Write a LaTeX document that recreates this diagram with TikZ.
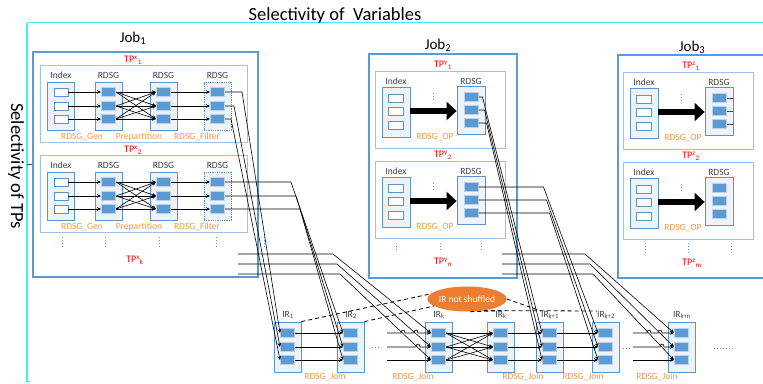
\documentclass[tikz,border=0pt]{standalone}
\usepackage{fontspec}
\setmainfont{Carlito}
\usetikzlibrary{arrows.meta,shapes.geometric,calc}

\definecolor{jobblue}{HTML}{5B9BD5}
\definecolor{tpblue}{HTML}{9DC3E6}
\definecolor{colblue}{HTML}{5F93CC}
\definecolor{colfill}{HTML}{EEF3FA}
\definecolor{cellblue}{HTML}{5B9BD5}
\definecolor{celledge}{HTML}{BDD3EC}
\definecolor{oplabel}{HTML}{F79646}
\definecolor{tpred}{HTML}{FF0000}
\definecolor{axiscyan}{HTML}{3FF2F2}
\definecolor{shuffle}{HTML}{ED7D31}
\definecolor{irgrey}{HTML}{404040}

\tikzset{
  jobbox/.style={draw=jobblue, line width=2pt},
  tpbox/.style={draw=tpblue, line width=1pt},
  colbox/.style={draw=colblue, fill=colfill, line width=0.8pt, inner sep=0pt},
  idxcell/.style={draw=colblue, fill=white, line width=0.7pt, minimum width=14pt, minimum height=8pt, inner sep=0pt},
  rdcell/.style={fill=cellblue, draw=celledge, line width=1pt, minimum width=14pt, minimum height=9pt, inner sep=0pt},
  hdr/.style={font=\fontsize{9.5}{10}\selectfont, text=irgrey, inner sep=0pt},
  oplbl/.style={font=\fontsize{9.5}{10}\selectfont, text=oplabel, inner sep=0pt},
  tplbl/.style={font=\fontsize{10}{11}\selectfont, text=tpred, inner sep=0pt},
  irlbl/.style={font=\fontsize{9.5}{10}\selectfont, text=irgrey, inner sep=0pt},
  joblbl/.style={font=\fontsize{15}{16}\selectfont, inner sep=0pt},
  axistitle/.style={font=\fontsize{18.5}{20}\selectfont, inner sep=0pt},
  axisline/.style={draw=axiscyan, line width=1.5pt},
  wirearrow/.style={-{Stealth[length=4pt,width=3.5pt]}, line width=0.6pt},
  stub/.style={draw=black!70, line width=0.6pt},
  fatarrow/.style={line width=6pt, -{Triangle[length=10pt,width=18pt]}},
  vdots/.style={draw=jobblue, dotted, line width=1pt},
  dashline/.style={dash pattern=on 4pt off 3pt, line width=0.8pt},
}

\newcommand\tpname[2]{TP\textsuperscript{#1}\textsubscript{#2}}
% small bump where a horizontal wire jumps over a crossing one
\newcommand\hop[2]{-- (#1-2,#2) .. controls (#1-2,#2-4) and (#1+2,#2-4) .. (#1+2,#2)}

% one triple-pattern block of the first job: #1 prefix, #2 top edge, #3 subscript
\newcommand\xtp[3]{%
  \draw[tpbox] (40,#2) rectangle (247,#2+77);
  \node[tplbl] (#1-tp) at (133,#2-5) {\tpname{x}{#3}};
  \node[colbox, minimum width=27pt, minimum height=48pt] (#1-col1) at (61,#2+41) {};
  \node[colbox, minimum width=27pt, minimum height=48pt] (#1-col2) at (108.5,#2+41) {};
  \node[colbox, minimum width=27pt, minimum height=48pt] (#1-col3) at (163.5,#2+41) {};
  \node[colbox, densely dotted, minimum width=27pt, minimum height=48pt] (#1-col4) at (217.5,#2+41) {};
  \node[hdr] (#1-h1) at (61,#2+10) {Index};
  \node[hdr] (#1-h2) at (108.5,#2+10) {RDSG};
  \node[hdr] (#1-h3) at (163.5,#2+10) {RDSG};
  \node[hdr] (#1-h4) at (217.5,#2+10) {RDSG};
  \foreach \r/\dy in {1/27,2/41,3/54}{
    \node[idxcell] (#1-1-\r) at (61,#2+\dy) {};
    \node[rdcell] (#1-2-\r) at (108.5,#2+\dy) {};
    \node[rdcell] (#1-3-\r) at (163.5,#2+\dy) {};
    \node[rdcell] (#1-4-\r) at (217.5,#2+\dy) {};
  }
  \foreach \r in {1,2,3}{
    \draw[wirearrow] (#1-1-\r.east) -- (#1-2-\r.west);
    \draw[wirearrow] (#1-3-\r.east) -- (#1-4-\r.west);
    \foreach \s in {1,2,3} \draw[wirearrow] (#1-2-\r.east) -- (#1-3-\s.west);
  }
  \node[oplbl] (#1-gen) at (82,#2+72) {RDSG\_Gen};
  \node[oplbl] (#1-pre) at (139,#2+72) {Prepartition};
  \node[oplbl] (#1-fil) at (197,#2+72) {RDSG\_Filter};
}

% one triple-pattern block of the later jobs: #1 prefix, #2 left, #3 top, #4 letter, #5 subscript
\newcommand\ytp[5]{%
  \draw[tpbox] (#2,#3) rectangle (#2+130,#3+77);
  \node[tplbl] (#1-tp) at (#2+68,#3-6) {\tpname{#4}{#5}};
  \node[hdr] (#1-ih) at (#2+21,#3+10) {Index};
  \node[hdr] (#1-rh) at (#2+96,#3+10) {RDSG};
  \node[colbox, minimum width=28pt, minimum height=50pt] (#1-ib) at (#2+21,#3+41) {};
  \node[colbox, minimum width=28pt, minimum height=48pt] (#1-rb) at (#2+96,#3+39) {};
  \foreach \r/\dy in {1/27,2/40,3/54} \node[idxcell, minimum width=15pt] (#1-i-\r) at (#2+21,#3+\dy) {};
  \foreach \r/\dy in {1/26,2/39,3/52} \node[rdcell] (#1-r-\r) at (#2+96,#3+\dy) {};
  \coordinate (#1-ay) at (0,#3+40);
  \draw[fatarrow] (#1-ib.east |- #1-ay) -- (#1-rb.west |- #1-ay);
  \draw[vdots] (#2+58,#3+22) -- (#2+58,#3+31);
  \node[oplbl] (#1-op) at (#2+60,#3+66) {RDSG\_OP};
}

% one intermediate-result block: #1 name, #2 left edge, #3 subscript
\newcommand\irblock[3]{%
  \node[colbox, minimum width=27pt, minimum height=50pt] (#1) at (#2+13.5,347) {};
  \node[irlbl] (#1-lbl) at (#2+14,315) {IR\textsubscript{#3}};
  \foreach \r/\yy in {1/333,2/347,3/360} \node[rdcell] (#1-\r) at (#2+13.5,\yy) {};
}

\begin{document}
\begin{tikzpicture}[x=1pt,y=-1pt]
\useasboundingbox (0,0) rectangle (763,383);
\clip (0,0) rectangle (763,383);

% axes
\draw[axisline] (27,22.5) -- (763,22.5);
\draw[axisline] (27,22.5) -- (27,381);
\draw[axisline, line width=1pt] (24.5,381) -- (29.5,381);
\draw[black!70, line width=0.8pt] (27,164) -- (33,164);
\node[axistitle, anchor=base] (xtitle) at (335,20) {Selectivity of\ \ Variables};
\node[axistitle, rotate=-90] (ytitle) at (16,166) {Selectivity of TPs};

% job frames
\draw[jobbox] (33,52) rectangle (258,277);
\draw[jobbox] (369,54) rectangle (517,278);
\draw[jobbox] (618,55) rectangle (790,278);
\node[joblbl] (job1) at (133,38) {Job\textsubscript{1}};
\node[joblbl] (job2) at (438,45) {Job\textsubscript{2}};
\node[joblbl] (job3) at (692,47) {Job\textsubscript{3}};

% job 1
\xtp{xa}{65}{1}
\xtp{xb}{155}{2}
\foreach \xx in {62,105,159,216,264} \draw[vdots] (\xx,237) -- (\xx,247);
\node[tplbl] (xk) at (135,260) {\tpname{x}{k}};

% job 2
\ytp{ya}{375}{71}{y}{1}
\ytp{yb}{375}{161}{y}{2}
\foreach \xx in {396,440,481} \draw[vdots] (\xx,243) -- (\xx,252);
\node[tplbl] (yn) at (443,262) {\tpname{y}{n}};

% job 3
\ytp{za}{623}{72}{z}{1}
\ytp{zb}{623}{162}{z}{2}
\foreach \xx in {645,688,731} \draw[vdots] (\xx,243) -- (\xx,253);
\node[tplbl] (zm) at (692,263) {\tpname{z}{m}};
\foreach \r in {1,2,3} \draw[stub] (za-r-\r.east) -- (za-rb.east |- za-r-\r);

% intermediate results
\irblock{ir1}{274}{1}
\irblock{ir2}{337}{2}
\irblock{irk}{425}{k}
\irblock{irkp}{487}{k}
\irblock{irka}{536}{k+1}
\irblock{irkb}{592}{k+2}
\irblock{irkn}{668}{k+n}

\foreach \xx in {325,413,523,583,657} \node[oplbl] at (\xx,377) {RDSG\_Join};
\draw[vdots] (372,347) -- (381,347);
\draw[vdots] (623,348) -- (632,348);
\draw[vdots] (714,348) -- (734,348);

% joins between neighbouring results
\foreach \r in {1,2,3}{
  \draw[wirearrow] (ir1-\r.east) -- (ir2-\r.west);
  \draw[wirearrow] (irkp-\r.east) -- (irka-\r.west);
  \draw[wirearrow] (irka-\r.east) -- (irkb-\r.west);
  \foreach \s in {1,2,3} \draw[wirearrow] (irk-\r.east) -- (irkp-\s.west);
}

% wires entering IR_k and IR_{k+n} from the left
\coordinate (kin1) at (387,333);
\coordinate (kin2) at (387,347);
\coordinate (kin3) at (387,360);
\draw[wirearrow] (kin1) \hop{403}{333} \hop{416}{333} -- (irk-1.west);
\draw[wirearrow] (kin2) \hop{418}{347} -- (irk-2.west);
\draw[wirearrow] (kin3) -- (irk-3.west);
\coordinate (nin1) at (633,333);
\coordinate (nin2) at (633,347);
\coordinate (nin3) at (633,360);
\draw[wirearrow] (nin1) \hop{649}{333} \hop{660}{333} -- (irkn-1.west);
\draw[wirearrow] (nin2) \hop{662}{347} -- (irkn-2.west);
\draw[wirearrow] (nin3) -- (irkn-3.west);

% long wires from the jobs down to the results
\foreach \r/\dx in {1/17,2/9,3/6} \draw[wirearrow] (xa-4-\r.east) -- ++(\dx,0) -- (ir1-\r.west);
\foreach \r/\dx in {1/66,2/71,3/75} \draw[wirearrow] (xb-4-\r.east) -- ++(\dx,0) -- (ir2-\r.west);
\foreach \r/\yy/\dx in {1/254/95,2/264/99,3/274/102}{
  \coordinate (xk-out\r) at (238,\yy);
  \draw[wirearrow] (xk-out\r) -- ++(\dx,0) -- (irk-\r.west);
}
\foreach \r/\dx in {1/4,2/6,3/8} \draw[wirearrow] (ya-r-\r.east) -- ++(\dx,0) -- (irka-\r.west);
\foreach \r/\dx in {1/65,2/68,3/71} \draw[wirearrow] (yb-r-\r.east) -- ++(\dx,0) -- (irkb-\r.west);
\foreach \r/\yy/\dx in {1/254/83,2/264/88,3/274/91}{
  \coordinate (yn-out\r) at (502,\yy);
  \draw[wirearrow] (yn-out\r) -- ++(\dx,0) -- (irkn-\r.west);
}

% results that are not shuffled
\node[ellipse, fill=shuffle, minimum width=75pt, minimum height=25pt, inner sep=0pt,
      text=white, font=\fontsize{9.5}{10}\selectfont] (shuf) at (467,299) {IR not shuffled};
\draw[dashline] (ir1.north east) -- (shuf.172);
\draw[dashline] (ir2.north east) -- (shuf.192);
\draw[dashline] (shuf.-75) -- (irkp-lbl.north west);
\draw[dashline] (shuf.0) -- (irka-lbl.north west);
\draw[dashline] (shuf.-35) -- (irkb-lbl.north west);
\end{tikzpicture}
\end{document}
